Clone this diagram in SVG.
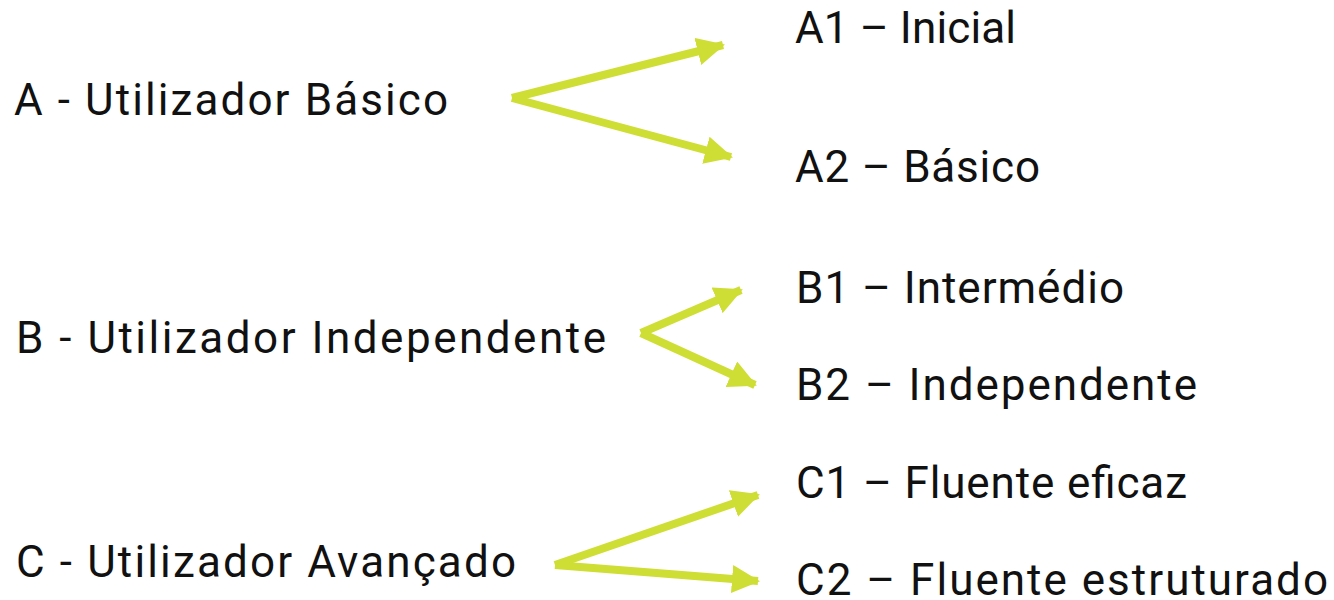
<svg xmlns="http://www.w3.org/2000/svg" width="1334" height="600" viewBox="0 0 1334 600">
<style>
text{font-family:Roboto,"Liberation Sans",sans-serif;font-size:44px;fill:#111}
.c line{stroke:#CFDE34;stroke-width:8;marker-end:url(#ah)}
</style>
<defs>
<marker id="ah" markerUnits="userSpaceOnUse" viewBox="0 0 28 28" refX="26" refY="14" markerWidth="28" markerHeight="28" orient="auto"><path d="M0,0 L28,14 L0,28 z" fill="#CFDE34"/></marker>
</defs>
<rect width="1334" height="600" fill="#fff"/>
<g id="A"><text x="14" y="115" textLength="434" lengthAdjust="spacing">A - Utilizador Básico</text></g>
<g id="B"><text x="16" y="353" textLength="590" lengthAdjust="spacing">B - Utilizador Independente</text></g>
<g id="C"><text x="16" y="577" textLength="500" lengthAdjust="spacing">C - Utilizador Avançado</text></g>
<g id="A1"><text x="795" y="43" textLength="221" lengthAdjust="spacing">A1 – Inicial</text></g>
<g id="A2"><text x="795" y="182" textLength="245" lengthAdjust="spacing">A2 – Básico</text></g>
<g id="B1"><text x="796" y="303" textLength="328" lengthAdjust="spacing">B1 – Intermédio</text></g>
<g id="B2"><text x="796" y="400" textLength="401" lengthAdjust="spacing">B2 – Independente</text></g>
<g id="C1"><text x="796" y="498" textLength="391" lengthAdjust="spacing">C1 – Fluente eficaz</text></g>
<g id="C2"><text x="796" y="595" textLength="532" lengthAdjust="spacing">C2 – Fluente estruturado</text></g>
<g class="c" id="connectors">
<line x1="512" y1="98" x2="723" y2="45"/>
<line x1="512" y1="98" x2="731" y2="157"/>
<line x1="641" y1="333" x2="741" y2="290"/>
<line x1="641" y1="333" x2="755" y2="385"/>
<line x1="555" y1="565" x2="758" y2="495"/>
<line x1="555" y1="565" x2="758" y2="581"/>
</g>
</svg>
